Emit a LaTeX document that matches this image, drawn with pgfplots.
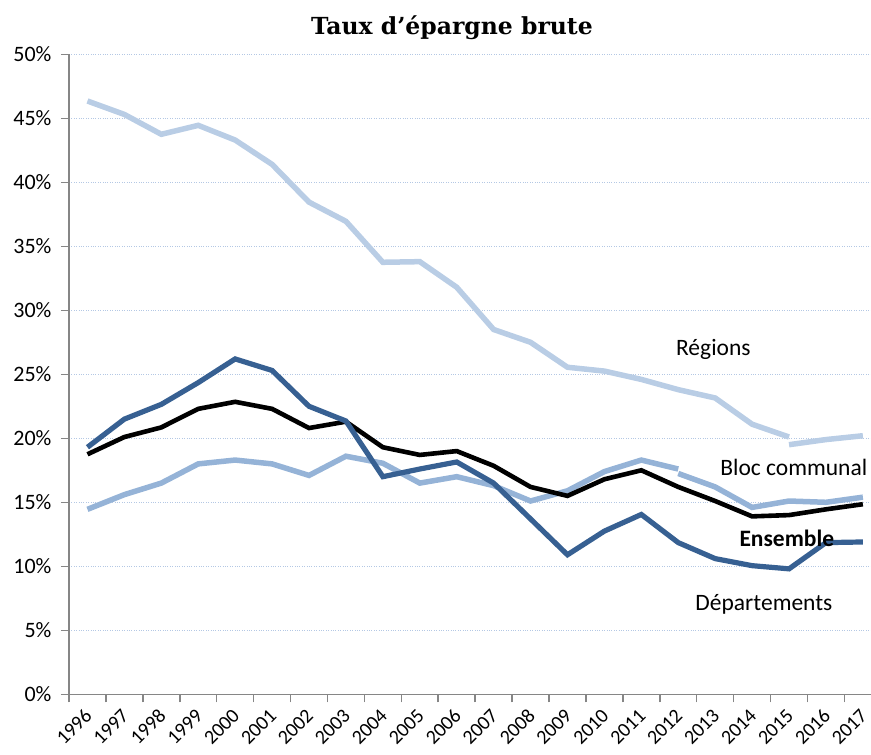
\documentclass[border=0pt]{standalone}
\usepackage{fontspec}
\setmainfont{Carlito}
\newfontfamily\titlefont{DejaVu Serif}
\usepackage{pgfplots}
\pgfplotsset{compat=1.18}

\definecolor{regions}{HTML}{B9CDE5}
\definecolor{bloc}{HTML}{95B3D7}
\definecolor{depts}{HTML}{376092}
\definecolor{gridblue}{HTML}{B4C8E4}
\definecolor{axisgray}{HTML}{868686}

\begin{document}
\begin{tikzpicture}
\begin{axis}[
    at={(0,0)}, anchor=south west,
    width=802pt, height=640pt, scale only axis,
    xmin=-0.5, xmax=21.22, ymin=0, ymax=50,
    axis x line*=bottom, axis y line*=left,
    axis line style={draw=axisgray, line width=1.5pt, -},
    tick align=outside, major tick length=8pt,
    xtick={0,...,21},
    xticklabels={1996,1997,1998,1999,2000,2001,2002,2003,2004,2005,2006,
                 2007,2008,2009,2010,2011,2012,2013,2014,2015,2016,2017},
    xtick style={draw=none},
    extra x ticks={-0.5,0.5,...,20.5},
    extra x tick labels={},
    extra x tick style={xtick style={draw=axisgray, line width=1.5pt}},
    xticklabel style={xshift=1pt, yshift=-10pt, rotate=45, anchor=east,
                      inner sep=0pt, font=\fontsize{20}{24}\selectfont},
    ytick={0,5,...,50},
    yticklabels={0\%,5\%,10\%,15\%,20\%,25\%,30\%,35\%,40\%,45\%,50\%},
    ytick style={draw=axisgray, line width=1.5pt},
    yticklabel style={xshift=-6pt, font=\fontsize{22}{26}\selectfont},
    ymajorgrids,
    major grid style={draw=gridblue, dotted, line width=1.2pt},
    clip mode=individual,
]
% Regions (break in 2015)
\addplot[regions, line width=5.5pt] coordinates {
    (0,46.35) (1,45.3) (2,43.75) (3,44.45) (4,43.3) (5,41.4) (6,38.45)
    (7,36.95) (8,33.75) (9,33.8) (10,31.8) (11,28.5) (12,27.5) (13,25.55)
    (14,25.25) (15,24.6) (16,23.8) (17,23.15) (18,21.1) (19,20.1)};
\addplot[regions, line width=5.5pt] coordinates {
    (19,19.5) (20,19.9) (21,20.2)};
% Bloc communal (break in 2012)
\addplot[bloc, line width=5.5pt] coordinates {
    (0,14.45) (1,15.6) (2,16.5) (3,18.0) (4,18.3) (5,18.0) (6,17.1)
    (7,18.6) (8,18.05) (9,16.5) (10,17.0) (11,16.3) (12,15.1) (13,15.9)
    (14,17.4) (15,18.3) (16,17.6)};
\addplot[bloc, line width=5.5pt] coordinates {
    (16,17.25) (17,16.2) (18,14.6) (19,15.1) (20,15.0) (21,15.4)};
% Ensemble
\addplot[black, line width=4.6pt] coordinates {
    (0,18.75) (1,20.1) (2,20.85) (3,22.3) (4,22.85) (5,22.3) (6,20.8)
    (7,21.3) (8,19.3) (9,18.7) (10,19.0) (11,17.85) (12,16.2) (13,15.5)
    (14,16.8) (15,17.5) (16,16.2) (17,15.1) (18,13.9) (19,14.0) (20,14.45)
    (21,14.85)};
% Departements
\addplot[depts, line width=5.2pt] coordinates {
    (0,19.3) (1,21.5) (2,22.65) (3,24.35) (4,26.2) (5,25.3) (6,22.5)
    (7,21.35) (8,17.0) (9,17.6) (10,18.15) (11,16.5) (12,13.7) (13,10.9)
    (14,12.75) (15,14.05) (16,11.85) (17,10.6) (18,10.05) (19,9.8)
    (20,11.85) (21,11.9)};

\node[font=\fontsize{23.5}{26}\selectfont] at (axis cs:16.95,26.97) {Régions};
\node[font=\fontsize{23.5}{26}\selectfont] at (axis cs:19.13,17.76) {Bloc communal};
\node[font=\bfseries\fontsize{23.5}{26}\selectfont] at (axis cs:18.94,12.2) {Ensemble};
\node[font=\fontsize{23.5}{26}\selectfont] at (axis cs:18.32,7.05) {Départements};
\end{axis}
\node[font=\titlefont\bfseries\fontsize{23.5}{26}\selectfont] at (383pt,667pt)
    {Taux d’épargne brute};
\pgfresetboundingbox
\path (-69pt,-60.7pt) rectangle (802pt,694.3pt);
\end{tikzpicture}
\end{document}
